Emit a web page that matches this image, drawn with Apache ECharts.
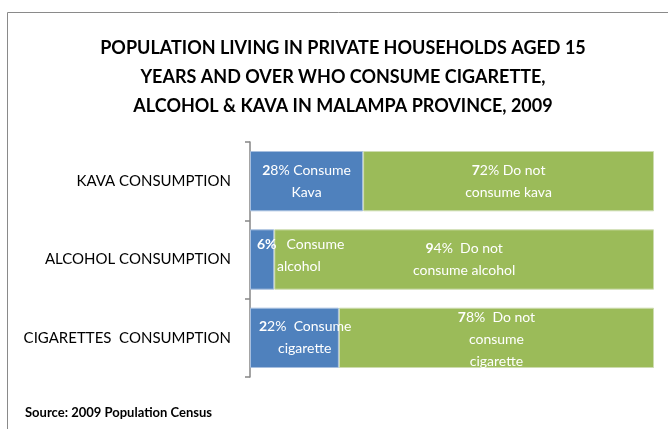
<!DOCTYPE html>
<html><head><meta charset="utf-8">
<script src="https://cdn.jsdelivr.net/npm/echarts@6/dist/echarts.min.js"></script>
<style>html,body{margin:0;padding:0;background:#fff}#c{width:668px;height:429px}</style>
</head><body><div id="c"></div>
<script>
var categories = ['KAVA CONSUMPTION', 'ALCOHOL CONSUMPTION', 'CIGARETTES  CONSUMPTION'];
var consume = [28, 6, 22];
var notConsume = [72, 94, 78];
var consumeText = [['Consume', 'Kava'], ['Consume', 'alcohol'], ['Consume', 'cigarette']];
var notText = [['Do not', 'consume kava'], ['Do not', 'consume alcohol'], ['Do not', 'consume', 'cigarette']];

var FONT = 'Lato, "Open Sans", sans-serif';
function pct(v) {
  var s = String(v);
  return '{b|' + s.charAt(0) + '}' + s.slice(1) + '%';
}
var labelRich = { b: { fontWeight: 'bold', color: '#fff', fontSize: 14, fontFamily: FONT, lineHeight: 22 } };

var consumeData = consume.map(function (v, i) {
  var lab;
  if (i === 0) {
    lab = { show: true, position: 'inside', formatter: pct(v) + ' ' + consumeText[i][0] + '\n' + consumeText[i][1] };
  } else if (i === 1) {
    lab = { show: true, position: 'insideLeft', offset: [2, -4], align: 'left',
      formatter: '{b|' + v + '%}{g|}' + consumeText[i][0] + '\n{s|}' + consumeText[i][1],
      rich: { b: labelRich.b, g: { width: 10 }, s: { width: 20 } } };
  } else {
    lab = { show: true, position: 'insideLeft', offset: [4, 0], align: 'left',
      formatter: pct(v) + '  ' + consumeText[i][0] + '\n{s|}' + consumeText[i][1],
      rich: { b: labelRich.b, s: { width: 19 } } };
  }
  return { value: v, label: lab };
});
var notData = notConsume.map(function (v, i) {
  var t = notText[i];
  var sep = i === 0 ? ' ' : '  ';
  return { value: v, label: { show: true, position: 'inside', offset: i === 2 ? [0, 2] : [0, 0], formatter: pct(v) + sep + t.join('\n') } };
});

var chart = echarts.init(document.getElementById('c'), null, { renderer: 'canvas' });
chart.setOption({
  animation: false,
  backgroundColor: '#fff',
  title: {
    text: 'POPULATION LIVING IN PRIVATE HOUSEHOLDS AGED 15\nYEARS AND OVER WHO CONSUME CIGARETTE,\nALCOHOL & KAVA IN MALAMPA PROVINCE, 2009',
    left: 338, top: 29, textAlign: 'center',
    textStyle: { fontFamily: FONT, fontWeight: 'bold', fontSize: 18, lineHeight: 29, color: '#000' }
  },
  graphic: [
    { type: 'rect', shape: { x: 7.5, y: 12.5, width: 700, height: 500 }, style: { fill: 'none', stroke: '#8a8a8a', lineWidth: 1 }, silent: true, z: -1 },
    { type: 'text', left: 25, top: 406, style: { text: 'Source: 2009 Population Census', font: 'bold 13px ' + FONT, fill: '#000' } }
  ],
  grid: { left: 250, right: 14, top: 142, bottom: 52 },
  xAxis: { type: 'value', min: 0, max: 100, show: false },
  yAxis: {
    type: 'category', inverse: true, data: categories,
    axisLine: { lineStyle: { color: '#868686', width: 1.5 } },
    axisTick: { show: true, length: 5, lineStyle: { color: '#868686', width: 1.5 } },
    axisLabel: { fontFamily: FONT, fontSize: 15, color: '#000', margin: 19 },
    splitLine: { show: false }
  },
  series: [
    { name: 'Consume', type: 'bar', stack: 'a', barWidth: '77%', data: consumeData,
      itemStyle: { color: '#4F81BD', borderColor: '#a7bfdf', borderWidth: 1 },
      label: { color: '#fff', fontFamily: FONT, fontSize: 14, lineHeight: 22, rich: labelRich } },
    { name: 'Do not consume', type: 'bar', stack: 'a', data: notData,
      itemStyle: { color: '#9BBB59', borderColor: '#cddcb0', borderWidth: 1 },
      label: { color: '#fff', fontFamily: FONT, fontSize: 14, lineHeight: 22, rich: labelRich } }
  ]
});
</script></body></html>
